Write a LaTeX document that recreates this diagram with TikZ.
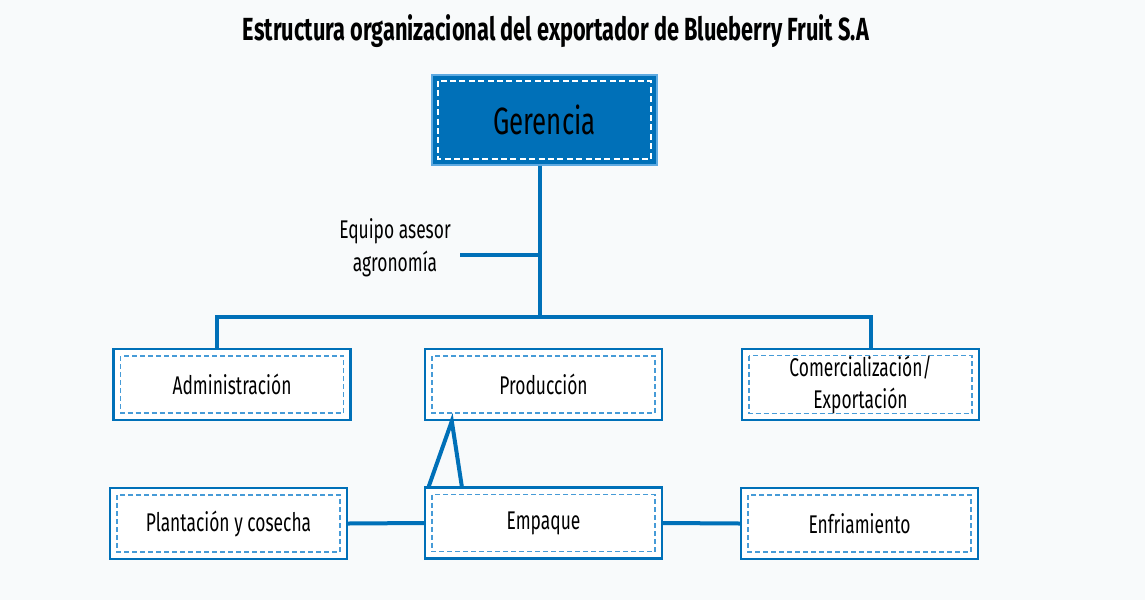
\documentclass[tikz,border=0pt]{standalone}
\usepackage{fontspec}
\setmainfont{Fira Sans}[FakeStretch=0.68]
\usepackage{xcolor}
\usetikzlibrary{positioning,calc}
\definecolor{lineblue}{RGB}{0,112,184}
\definecolor{dashblue}{RGB}{70,155,215}
\definecolor{edgeblue}{RGB}{95,170,225}
\definecolor{paper}{RGB}{248,250,251}

\tikzset{
	unitbox/.style={draw=lineblue, line width=1.2pt, fill=white,
		minimum width=118.5pt, minimum height=35.5pt, align=center,
		font=\fontsize{12.8}{16}\selectfont,
		path picture={\draw[dashblue, line width=0.55pt, dash pattern=on 2.5pt off 1.5pt]
			([shift={(3.5pt,-3.5pt)}]path picture bounding box.north west) rectangle
			([shift={(-3.5pt,3.5pt)}]path picture bounding box.south east);}},
	headbox/.style={draw=edgeblue, line width=0.6pt, fill=lineblue,
		minimum width=112.5pt, minimum height=45pt,
		font=\fontsize{19}{21}\selectfont,
		path picture={\draw[white, line width=1.3pt, dash pattern=on 3pt off 1.7pt]
			([shift={(3pt,-3pt)}]path picture bounding box.north west) rectangle
			([shift={(-3pt,3pt)}]path picture bounding box.south east);}},
	connector/.style={draw=lineblue, line width=2pt}
}

\begin{document}
\begin{tikzpicture}[x=0.5pt,y=-0.5pt]
		
		\useasboundingbox[fill=paper]
		(0,0) rectangle (1145,600);
		
		\node[font=\bfseries\fontsize{16}{18}\selectfont] (title)
		at (556,31)
		{Estructura organizacional del exportador de Blueberry Fruit S.A};
		
		% top
		\node[headbox] (ger)
		at (544.5,120)
		{Gerencia};
		
		\node[align=center, font=\fontsize{12.8}{16.5}\selectfont] (asesor)
		at (395,248)
		{Equipo asesor\\agronomía};
		
		% first level
		\node[unitbox] (adm)
		at (232,384.5)
		{Administración};
		
		\node[unitbox] (prod)
		at (543.5,384.5)
		{Producción};
		
		\node[unitbox] (com)
		at (860.5,384.5)
		{Comercialización/\\Exportación};
		
		% second level
		\node[unitbox] (plant)
		at (228.5,523.5)
		{Plantación y cosecha};
		
		\node[unitbox] (emp)
		at (543.5,523)
		{Empaque};
		
		\node[unitbox] (enf)
		at (859.5,523.5)
		{Enfriamiento};
		
		% connectors
		\coordinate (hub) at (540,317);
		\coordinate (advL) at (460,255);
		\coordinate (barL) at (217,317);
		\coordinate (barR) at (871,317);
		
		\draw[connector]
		(ger.south -| hub) -- (hub);
		
		\draw[connector]
		(advL) -- (advL -| hub);
		
		\draw[connector]
		(adm.north -| barL) -- (barL) -- (barR) -- (com.north -| barR);
		
		\draw[connector]
		([xshift=2.5pt]emp.north west) -- ([xshift=14pt]prod.south west)
		-- ([xshift=19pt]emp.north west);
		
		\draw[connector]
		(plant.east) -- (emp.west);
		
		\draw[connector]
		(emp.east) -- (enf.west);
		
	\end{tikzpicture}
\end{document}
